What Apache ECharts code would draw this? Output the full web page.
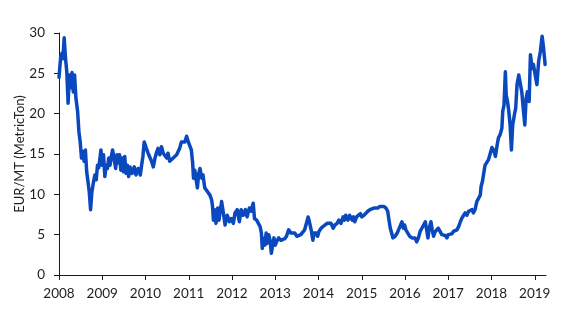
<!DOCTYPE html>
<html>
<head>
<meta charset="utf-8">
<script src="https://cdn.jsdelivr.net/npm/echarts@6/dist/echarts.min.js"></script>
<style>
  html, body { margin: 0; padding: 0; background: #fff; }
  #chart { width: 567px; height: 330px; }
</style>
</head>
<body>
<div id="chart"></div>
<script>
// EU carbon allowance price, EUR per metric ton; time as decimal years
const times = [
  2008.00, 2008.04, 2008.07, 2008.09, 2008.12, 2008.15, 2008.18, 2008.21, 2008.24, 2008.27,
  2008.30, 2008.33, 2008.36, 2008.39, 2008.43, 2008.46, 2008.49, 2008.52, 2008.55, 2008.58,
  2008.61, 2008.64, 2008.67, 2008.70, 2008.73, 2008.76, 2008.80, 2008.83, 2008.86, 2008.89,
  2008.92, 2008.97, 2009.00, 2009.03, 2009.06, 2009.09, 2009.12, 2009.15, 2009.18, 2009.21,
  2009.24, 2009.27, 2009.31, 2009.34, 2009.37, 2009.40, 2009.43, 2009.46, 2009.49, 2009.52,
  2009.55, 2009.58, 2009.61, 2009.64, 2009.69, 2009.74, 2009.78, 2009.83, 2009.88, 2009.91,
  2009.94, 2009.97, 2010.02, 2010.06, 2010.10, 2010.14, 2010.18, 2010.22, 2010.25, 2010.29,
  2010.33, 2010.37, 2010.41, 2010.45, 2010.49, 2010.52, 2010.56, 2010.60, 2010.64, 2010.68,
  2010.72, 2010.75, 2010.79, 2010.83, 2010.87, 2010.91, 2010.95, 2010.99, 2011.03, 2011.06,
  2011.09, 2011.11, 2011.14, 2011.17, 2011.20, 2011.23, 2011.26, 2011.30, 2011.33, 2011.37,
  2011.41, 2011.45, 2011.49, 2011.53, 2011.55, 2011.57, 2011.60, 2011.63, 2011.67, 2011.70,
  2011.73, 2011.76, 2011.80, 2011.84, 2011.89, 2011.94, 2011.98, 2012.03, 2012.07, 2012.12,
  2012.17, 2012.21, 2012.26, 2012.31, 2012.35, 2012.40, 2012.44, 2012.49, 2012.52, 2012.57,
  2012.61, 2012.65, 2012.68, 2012.70, 2012.72, 2012.76, 2012.79, 2012.81, 2012.85, 2012.88,
  2012.91, 2012.94, 2012.97, 2013.00, 2013.03, 2013.08, 2013.13, 2013.17, 2013.22, 2013.26,
  2013.31, 2013.36, 2013.40, 2013.45, 2013.50, 2013.54, 2013.59, 2013.63, 2013.68, 2013.73,
  2013.76, 2013.79, 2013.83, 2013.87, 2013.90, 2013.95, 2013.98, 2014.01, 2014.06, 2014.10,
  2014.15, 2014.20, 2014.24, 2014.29, 2014.34, 2014.38, 2014.43, 2014.47, 2014.52, 2014.57,
  2014.60, 2014.63, 2014.68, 2014.72, 2014.75, 2014.78, 2014.81, 2014.84, 2014.88, 2014.92,
  2014.97, 2015.00, 2015.05, 2015.09, 2015.14, 2015.19, 2015.23, 2015.28, 2015.32, 2015.37,
  2015.42, 2015.46, 2015.51, 2015.56, 2015.60, 2015.63, 2015.66, 2015.69, 2015.72, 2015.77,
  2015.82, 2015.85, 2015.88, 2015.93, 2015.96, 2015.99, 2016.02, 2016.06, 2016.11, 2016.16,
  2016.19, 2016.23, 2016.27, 2016.31, 2016.35, 2016.39, 2016.43, 2016.47, 2016.50, 2016.53,
  2016.56, 2016.60, 2016.63, 2016.66, 2016.70, 2016.74, 2016.77, 2016.81, 2016.85, 2016.89,
  2016.93, 2016.97, 2017.00, 2017.04, 2017.08, 2017.12, 2017.16, 2017.20, 2017.24, 2017.28,
  2017.31, 2017.35, 2017.39, 2017.43, 2017.47, 2017.51, 2017.55, 2017.58, 2017.62, 2017.66,
  2017.70, 2017.74, 2017.76, 2017.79, 2017.82, 2017.85, 2017.89, 2017.93, 2017.97, 2018.01,
  2018.05, 2018.09, 2018.13, 2018.16, 2018.20, 2018.24, 2018.26, 2018.29, 2018.32, 2018.34,
  2018.37, 2018.40, 2018.43, 2018.46, 2018.49, 2018.53, 2018.56, 2018.59, 2018.63, 2018.66,
  2018.70, 2018.74, 2018.77, 2018.80, 2018.83, 2018.87, 2018.90, 2018.94, 2018.97, 2019.01,
  2019.05, 2019.09, 2019.13, 2019.17, 2019.20, 2019.24
];

const prices = [
  24.5, 27.1, 27.5, 26.8, 29.4, 26.9, 25.2, 21.3, 24.8, 23.2,
  25.1, 22.7, 24.8, 22.0, 20.3, 17.8, 16.5, 14.5, 15.3, 14.1,
  15.5, 12.8, 11.6, 10.3, 8.1, 10.3, 11.6, 12.4, 11.8, 13.6,
  13.3, 15.5, 13.6, 14.9, 12.2, 13.6, 13.2, 14.5, 13.6, 14.7,
  15.5, 15.3, 13.2, 14.9, 13.9, 14.9, 13.0, 14.5, 12.8, 14.7,
  12.6, 13.6, 12.2, 13.4, 12.6, 13.4, 12.4, 13.2, 12.4, 13.6,
  14.7, 16.5, 15.7, 15.1, 15.3, 14.1, 13.4, 14.5, 15.1, 15.7,
  14.9, 15.9, 15.1, 15.3, 14.5, 15.1, 14.1, 14.3, 14.5, 14.3,
  14.9, 15.1, 15.7, 16.5, 16.7, 16.5, 17.2, 16.5, 16.3, 15.5,
  13.9, 12.0, 13.0, 11.8, 10.8, 12.6, 13.2, 12.0, 12.4, 10.8,
  10.5, 10.3, 9.9, 9.3, 8.5, 6.8, 8.1, 6.4, 8.3, 6.8,
  8.1, 9.1, 7.7, 6.2, 7.4, 6.6, 7.0, 6.4, 7.7, 8.1,
  6.6, 8.1, 7.4, 8.1, 7.2, 8.3, 7.9, 8.9, 7.0, 6.8,
  6.6, 6.0, 5.2, 3.3, 4.6, 3.7, 5.2, 3.9, 5.0, 4.3,
  2.7, 3.7, 4.6, 3.7, 4.1, 4.6, 4.3, 4.5, 4.5, 4.8,
  5.6, 5.2, 5.0, 5.2, 4.8, 4.6, 5.0, 4.8, 5.6, 6.6,
  7.2, 6.6, 5.6, 4.3, 5.2, 5.2, 4.8, 5.4, 5.8, 6.0,
  6.2, 6.4, 6.2, 6.4, 5.8, 6.2, 6.4, 6.8, 6.4, 7.2,
  6.8, 7.4, 6.8, 7.4, 7.6, 6.8, 7.2, 6.6, 7.2, 7.4,
  7.6, 7.2, 7.4, 7.6, 7.9, 8.1, 8.1, 8.3, 8.1, 8.3,
  8.5, 8.6, 8.5, 8.3, 7.9, 6.8, 5.8, 5.2, 4.6, 4.8,
  5.2, 5.6, 5.4, 6.6, 5.8, 6.2, 5.6, 5.4, 4.8, 4.6,
  4.8, 4.6, 4.1, 4.6, 5.4, 5.8, 6.2, 6.6, 5.6, 4.6,
  5.8, 6.6, 5.6, 4.8, 5.4, 5.2, 5.8, 5.4, 5.0, 5.2,
  4.9, 4.6, 5.0, 5.2, 5.1, 5.4, 5.2, 5.6, 6.0, 6.6,
  7.0, 7.2, 7.7, 7.4, 7.9, 7.7, 8.1, 7.7, 8.1, 9.1,
  9.3, 9.9, 11.0, 11.6, 12.6, 13.6, 13.6, 14.3, 14.1, 15.8,
  15.5, 14.7, 16.1, 17.0, 17.4, 18.2, 20.3, 21.1, 25.2, 22.3,
  21.5, 20.3, 18.6, 15.5, 18.6, 19.9, 20.7, 23.6, 24.8, 24.8,
  22.7, 20.3, 18.6, 21.9, 22.7, 21.5, 27.3, 25.6, 26.1, 24.8,
  23.6, 26.5, 27.7, 29.6, 28.3, 26.1
];

const yearTicks = [2008, 2009, 2010, 2011, 2012, 2013, 2014, 2015, 2016, 2017, 2018, 2019];
const priceTicks = [0, 5, 10, 15, 20, 25, 30];
const yAxisTitle = 'EUR/MT (MetricTon)';

const seriesData = times.map((t, i) => [t, prices[i]]);

const axisColor = '#1a1a1a';
const textStyle = { fontFamily: 'Lato', fontSize: 13.5, color: '#1e1e1e' };

const chart = echarts.init(document.getElementById('chart'), null, { renderer: 'canvas' });
chart.setOption({
  animation: false,
  backgroundColor: '#ffffff',
  grid: { left: 59, right: 21, top: 33, bottom: 55, containLabel: false },
  xAxis: {
    type: 'value',
    min: 2008,
    max: 2019.26,
    interval: 1,
    axisLine: { show: true, lineStyle: { color: axisColor, width: 1 } },
    axisTick: { show: true, inside: false, length: 5, customValues: yearTicks,
                lineStyle: { color: axisColor } },
    axisLabel: { customValues: yearTicks, margin: 12, formatter: v => String(Math.round(v)), ...textStyle },
    splitLine: { show: false }
  },
  yAxis: {
    type: 'value',
    min: 0,
    max: 30,
    interval: 5,
    name: yAxisTitle,
    nameLocation: 'middle',
    nameRotate: 90,
    nameGap: 33,
    nameMoveOverlap: false,
    nameTextStyle: { ...textStyle, fontSize: 13 },
    axisLine: { show: true, lineStyle: { color: axisColor, width: 1 } },
    axisTick: { show: true, inside: false, length: 5, customValues: priceTicks,
                lineStyle: { color: axisColor } },
    axisLabel: { customValues: priceTicks, margin: 14, ...textStyle },
    splitLine: { show: false }
  },
  series: [{
    type: 'line',
    data: seriesData,
    showSymbol: false,
    symbol: 'none',
    smooth: false,
    lineStyle: { color: '#0A48BE', width: 3.5, join: 'round', cap: 'round' },
    z: 3
  }]
});
</script>
</body>
</html>
